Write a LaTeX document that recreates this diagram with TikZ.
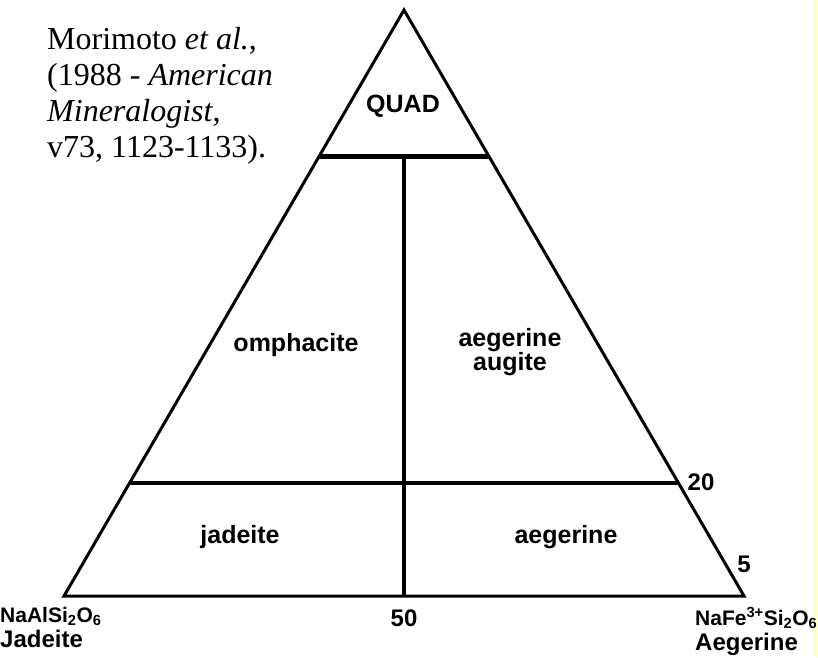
\documentclass[tikz,border=0pt]{standalone}
\usepackage{fontspec}
\setmainfont{Liberation Serif}
\newfontfamily\fieldfont{Liberation Sans}
\usetikzlibrary{calc}
\definecolor{pagestrip}{RGB}{255,255,204}

\newcommand{\formulasize}{\fontsize{21}{25}\selectfont}

\begin{document}
\begin{tikzpicture}[
    x=1pt, y=-1pt,
    field/.style={font={\fieldfont\bfseries\fontsize{25}{19}\selectfont},align=center,inner sep=0pt},
    tick/.style={font={\fieldfont\bfseries\fontsize{24}{24}\selectfont},inner sep=0pt},
    endmember/.style={font={\fieldfont\bfseries\fontsize{24}{25}\selectfont},align=left,inner sep=0pt,anchor=north west},
    edge/.style={line width=3pt,line join=miter},
    divide/.style={line width=4.5pt},
]

\useasboundingbox (0,0) rectangle (818,657);
\fill[white] (0,0) rectangle (818,657);
\fill[pagestrip] (813,0) rectangle (818,657);

% =====================================================
% Triangle Q - Jd - Ae
% =====================================================

\coordinate (jd) at (64,596);
\coordinate (ae) at (744,596);
\coordinate (quad) at (404,10);

\draw[edge] (jd) -- (quad) -- (ae) -- cycle;

\coordinate (q80l) at ($(jd)!0.75!(quad)$);
\coordinate (q80r) at ($(ae)!0.75!(quad)$);
\coordinate (q20l) at ($(jd)!0.193!(quad)$);
\coordinate (q20r) at ($(ae)!0.193!(quad)$);
\coordinate (top) at ($(q80l)!0.5!(q80r)$);
\coordinate (mid) at ($(jd)!0.5!(ae)$);

\draw[divide] (q80l) -- (q80r);
\draw[divide] (q20l) -- (q20r);
\draw[divide] (top) -- (mid);

% =====================================================
% Fields
% =====================================================

\node[field] (quadlbl) at (403,106) {QUAD};
\node[field] (omph) at (296,345) {omphacite};
\node[field] (aeaug) at (510,352) {aegerine\\augite};
\node[field] (jdlbl) at (240,537) {jadeite};
\node[field] (aelbl) at (566,537) {aegerine};

\node[tick] (tick20) at (701,482) {20};
\node[tick] (tick5) at (744,564) {5};
\node[tick] (tick50) at (404,618) {50};

% =====================================================
% End members and reference
% =====================================================

\node[endmember] (jdname) at (0,607)
{{\formulasize NaAlSi\textsubscript{2}O\textsubscript{6}}\\Jadeite};
\node[endmember] (aename) at (695,607)
{{\formulasize NaFe\textsuperscript{3+}Si\textsubscript{2}O\textsubscript{6}}\\Aegerine};

\node[align=left,anchor=north west,inner sep=0pt,
      font={\fontsize{32}{36}\selectfont}] (ref) at (47,27)
{Morimoto \textit{et al.},\\
(1988 - \textit{American}\\
\textit{Mineralogist},\\
v73, 1123-1133).};

\end{tikzpicture}
\end{document}
